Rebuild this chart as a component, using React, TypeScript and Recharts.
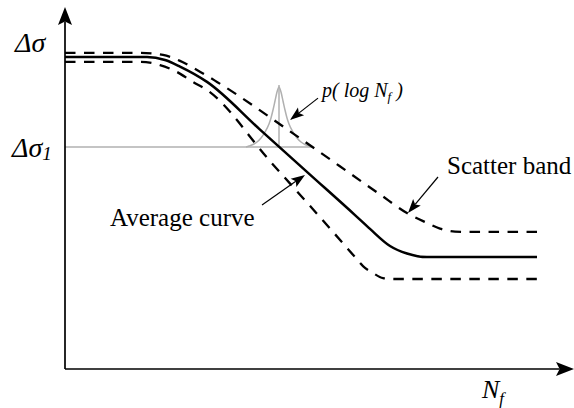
import { ComposedChart, Line, XAxis, YAxis, ReferenceLine, ReferenceDot } from "recharts"

// S-N schematic, values (x ~ log N, y ~ stress range)
const averageCurve = [
  { x: 0, y: 104 },
  { x: 16.4, y: 104 },
  { x: 20, y: 103 },
  { x: 23, y: 100.8 },
  { x: 28.4, y: 95.7 },
  { x: 39, y: 79.8 },
  { x: 49, y: 64.8 },
  { x: 58, y: 51.3 },
  { x: 61, y: 46.7 },
  { x: 65, y: 41 },
  { x: 68.4, y: 38.5 },
  { x: 72.4, y: 37.3 },
  { x: 94.4, y: 37.3 },
]

const upperBand = [
  { x: 0, y: 105.4 },
  { x: 15, y: 105.4 },
  { x: 19.6, y: 104.7 },
  { x: 23, y: 102.7 },
  { x: 26.4, y: 99.7 },
  { x: 30.4, y: 95.7 },
  { x: 47, y: 76.9 },
  { x: 63, y: 58.2 },
  { x: 68.6, y: 51.8 },
  { x: 72, y: 49 },
  { x: 75, y: 46.8 },
  { x: 78, y: 45.8 },
  { x: 81, y: 45.7 },
  { x: 94.4, y: 45.7 },
]

const lowerBand = [
  { x: 0, y: 102.4 },
  { x: 15, y: 102.4 },
  { x: 19, y: 101.3 },
  { x: 22.4, y: 99 },
  { x: 25.6, y: 95.7 },
  { x: 28.4, y: 93 },
  { x: 41, y: 69.3 },
  { x: 53.6, y: 45.7 },
  { x: 58, y: 37.3 },
  { x: 59.6, y: 34.3 },
  { x: 61.6, y: 32 },
  { x: 63.6, y: 30.3 },
  { x: 66, y: 30 },
  { x: 94.4, y: 30 },
]

// p(log Nf) sitting on the Δσ1 level
const densityCurve = [
  { x: 36.2, y: 74 },
  { x: 36.8, y: 74.33 },
  { x: 37.6, y: 74.83 },
  { x: 38.4, y: 75.67 },
  { x: 39.2, y: 77 },
  { x: 40.0, y: 79 },
  { x: 40.8, y: 81.67 },
  { x: 41.2, y: 83.67 },
  { x: 41.6, y: 86.33 },
  { x: 42.0, y: 89.33 },
  { x: 42.4, y: 92.33 },
  { x: 42.8, y: 94 },
  { x: 43.2, y: 92.33 },
  { x: 43.6, y: 89.33 },
  { x: 44.0, y: 86.33 },
  { x: 44.4, y: 83.67 },
  { x: 44.8, y: 81.67 },
  { x: 45.6, y: 79 },
  { x: 46.4, y: 77 },
  { x: 47.2, y: 75.67 },
  { x: 48.0, y: 74.83 },
  { x: 48.8, y: 74.33 },
  { x: 49.4, y: 74 },
]

const stressLevel = 74
const densityCenter = 42.8
const densityPeak = 94.67

const yTickValues = [109, 74]
const yTickNames = ["Δσ", "Δσ"]
const yTickSubs = ["", "1"]

const serif = "'Liberation Serif', 'Times New Roman', serif"

function Arrow(props: any) {
  const { x1, y1, x2, y2, head = 14, half = 5, width = 1.2, color = "#000" } = props
  const dx = x2 - x1
  const dy = y2 - y1
  const len = Math.hypot(dx, dy) || 1
  const ux = dx / len
  const uy = dy / len
  const nx = -uy
  const ny = ux
  const bx = x2 - ux * head
  const by = y2 - uy * head
  const nxp = x2 - ux * head * 0.8
  const nyp = y2 - uy * head * 0.8
  const d = `M${x2},${y2} L${bx + nx * half},${by + ny * half} L${nxp},${nyp} L${bx - nx * half},${by - ny * half} Z`
  return (
    <g>
      <line x1={x1} y1={y1} x2={nxp} y2={nyp} stroke={color} strokeWidth={width} />
      <path d={d} fill={color} stroke="none" />
    </g>
  )
}

function StressTick(props: any) {
  const { y, payload } = props
  const i = yTickValues.indexOf(payload.value)
  const sub = yTickSubs[i]
  return (
    <text x={sub ? 12 : 15} y={y + 10} fontFamily={serif} fontStyle="italic" fontSize={28} fill="#000" textAnchor="start">
      <tspan>{yTickNames[i]}</tspan>
      {sub ? (
        <tspan fontSize={19} dy={3}>
          {sub}
        </tspan>
      ) : null}
    </text>
  )
}

function Label(props: any) {
  const { cx, cy, text, size = 25, italic = false, sub, tail } = props
  return (
    <text x={cx} y={cy} fontFamily={serif} fontSize={size} fontStyle={italic ? "italic" : "normal"} fill="#000">
      <tspan>{text}</tspan>
      {sub ? (
        <tspan fontSize={size * 0.65} dy={size * 0.22}>
          {sub}
        </tspan>
      ) : null}
      {tail ? <tspan dy={-size * 0.22}>{tail}</tspan> : null}
    </text>
  )
}

export default function App() {
  return (
    <div style={{ position: "absolute", left: 0, top: 0, background: "#fff" }}>
      <ComposedChart width={574} height={408} margin={{ top: 9, right: 9, bottom: 9, left: 5 }}>
        <XAxis type="number" dataKey="x" domain={[0, 100]} tick={false} axisLine={false} tickLine={false} height={30} />
        <YAxis
          type="number"
          domain={[0, 120]}
          ticks={yTickValues}
          interval={0}
          tick={<StressTick />}
          axisLine={false}
          tickLine={false}
          width={60}
        />

        {/* Δσ1 level and density */}
        <ReferenceLine
          segment={[{ x: 0, y: stressLevel }, { x: 49.4, y: stressLevel }]}
          stroke="#b0b0b0"
          strokeWidth={1.5}
          ifOverflow="visible"
        />
        <ReferenceLine
          segment={[{ x: densityCenter, y: stressLevel }, { x: densityCenter, y: densityPeak }]}
          stroke="#b0b0b0"
          strokeWidth={1.5}
          ifOverflow="visible"
        />
        <Line data={densityCurve} dataKey="y" type="monotone" stroke="#b0b0b0" strokeWidth={1.5} dot={false} activeDot={false} isAnimationActive={false} />

        <Line data={upperBand} dataKey="y" type="monotone" stroke="#000" strokeWidth={2.3} strokeDasharray="10.5 8.5" dot={false} activeDot={false} isAnimationActive={false} />
        <Line data={lowerBand} dataKey="y" type="monotone" stroke="#000" strokeWidth={2.3} strokeDasharray="10.5 8.5" dot={false} activeDot={false} isAnimationActive={false} />
        <Line data={averageCurve} dataKey="y" type="monotone" stroke="#000" strokeWidth={2.5} dot={false} activeDot={false} isAnimationActive={false} />

        {/* axes with arrow heads */}
        <ReferenceLine
          segment={[{ x: 0, y: 0 }, { x: 0, y: 120.67 }]}
          ifOverflow="visible"
          shape={(p: any) => <Arrow {...p} head={18} half={7} width={1.7} />}
        />
        <ReferenceLine
          segment={[{ x: 0, y: 0 }, { x: 101.8, y: 0 }]}
          ifOverflow="visible"
          shape={(p: any) => <Arrow {...p} head={18} half={7} width={1.7} />}
        />

        {/* annotation arrows */}
        <ReferenceLine segment={[{ x: 39.4, y: 54.7 }, { x: 48, y: 64.7 }]} ifOverflow="visible" shape={(p: any) => <Arrow {...p} />} />
        <ReferenceLine segment={[{ x: 50.6, y: 90.3 }, { x: 45, y: 83 }]} ifOverflow="visible" shape={(p: any) => <Arrow {...p} />} />
        <ReferenceLine segment={[{ x: 74.6, y: 64 }, { x: 68.6, y: 52 }]} ifOverflow="visible" shape={(p: any) => <Arrow {...p} />} />

        {/* labels */}
        <ReferenceDot x={9} y={47.67} r={0} ifOverflow="visible" shape={(p: any) => <Label {...p} text="Average curve" />} />
        <ReferenceDot x={76.4} y={65} r={0} ifOverflow="visible" shape={(p: any) => <Label {...p} text="Scatter band" />} />
        <ReferenceDot
          x={51.4}
          y={90.67}
          r={0}
          ifOverflow="visible"
          shape={(p: any) => <Label {...p} text="p( log N" sub="f" tail=" )" size={20} italic />}
        />
        <ReferenceDot x={83.4} y={-9.67} r={0} ifOverflow="visible" shape={(p: any) => <Label {...p} text="N" sub="f" size={26} italic />} />
      </ComposedChart>
    </div>
  )
}
